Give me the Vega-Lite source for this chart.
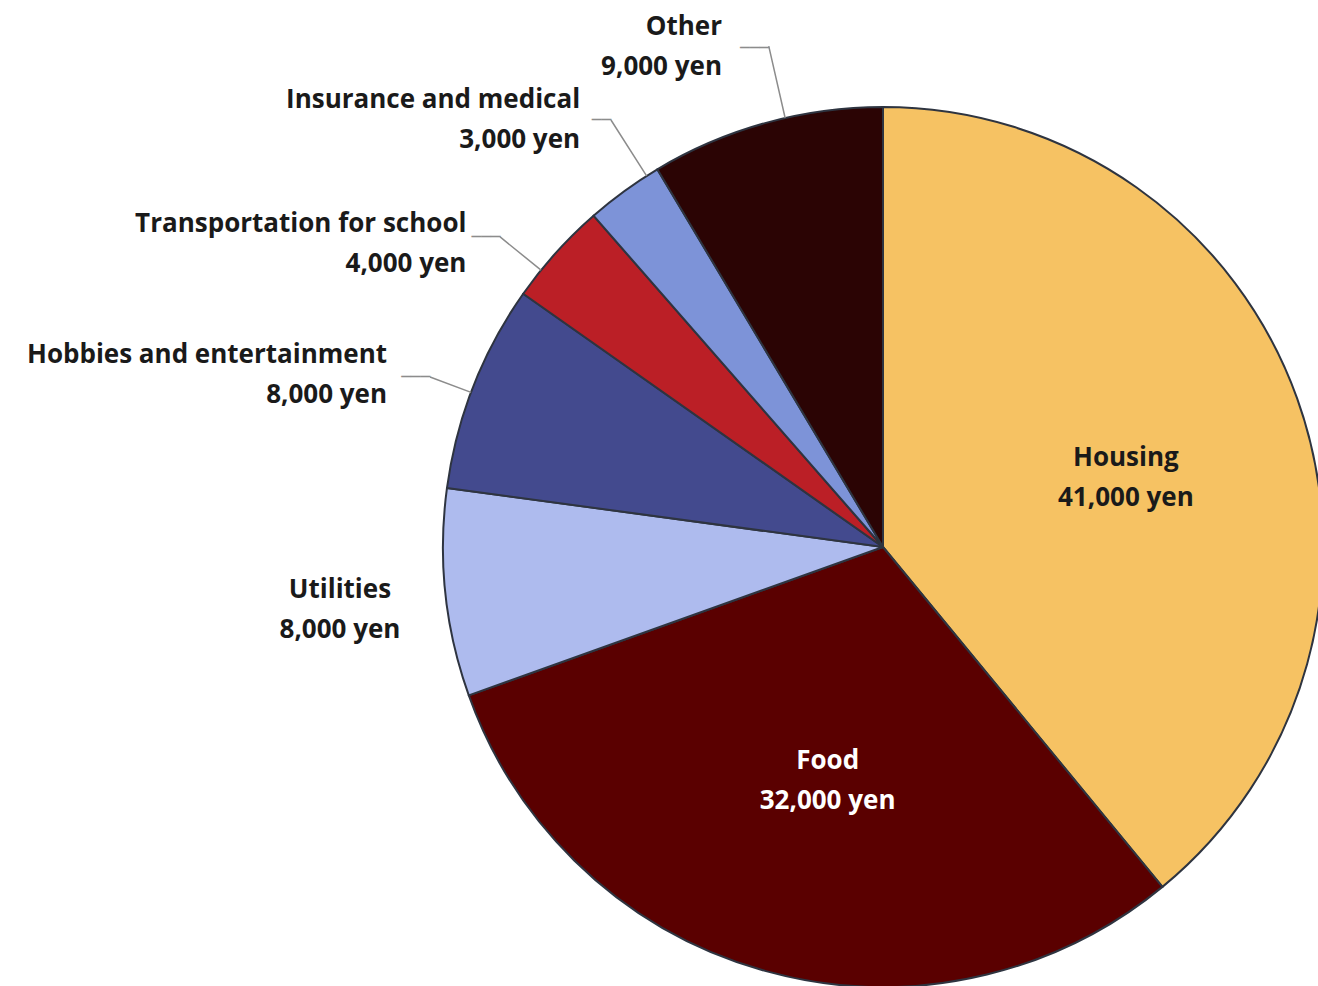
{
  "$schema": "https://vega.github.io/schema/vega-lite/v6.json",
  "width": 870,
  "height": 878,
  "padding": {"left": 448, "top": 108, "right": 0, "bottom": 0},
  "autosize": "none",
  "background": "white",
  "view": {"stroke": null},
  "data": {
    "values": [
      {"rank": 1, "category": "Housing", "amount": 41000, "label": "Housing\n41,000 yen"},
      {"rank": 2, "category": "Food", "amount": 32000, "label": "Food\n32,000 yen"},
      {"rank": 3, "category": "Utilities", "amount": 8000, "label": "Utilities\n8,000 yen"},
      {"rank": 4, "category": "Hobbies and entertainment", "amount": 8000, "label": "Hobbies and entertainment\n8,000 yen"},
      {"rank": 5, "category": "Transportation for school", "amount": 4000, "label": "Transportation for school\n4,000 yen"},
      {"rank": 6, "category": "Insurance and medical", "amount": 3000, "label": "Insurance and medical\n3,000 yen"},
      {"rank": 7, "category": "Other", "amount": 9000, "label": "Other\n9,000 yen"}
    ]
  },
  "encoding": {
    "theta": {"field": "amount", "type": "quantitative", "stack": true},
    "order": {"field": "rank", "type": "quantitative"},
    "detail": {"field": "category", "type": "nominal"}
  },
  "layer": [
    {
      "mark": {"type": "arc", "outerRadius": 440, "stroke": "#2e3440", "strokeWidth": 2, "strokeJoin": "round"},
      "encoding": {
        "color": {
          "field": "category", "type": "nominal", "legend": null,
          "scale": {
            "domain": ["Housing", "Food", "Utilities", "Hobbies and entertainment", "Transportation for school", "Insurance and medical", "Other"],
            "range": ["#F6C263", "#5A0000", "#AEBBEE", "#434A8E", "#BB1F26", "#7D93D8", "#2B0404"]
          }
        }
      }
    },
    {
      "mark": {"type": "arc", "innerRadius": 440, "outerRadius": 513.7, "padAngle": 3, "thetaOffset": 0.045, "theta2Offset": 0.045, "fill": "transparent", "stroke": "#8c8c8c", "strokeWidth": 1.5},
      "encoding": {"strokeOpacity": {"condition": {"test": "datum.category === 'Other'", "value": 1}, "value": 0}}
    },
    {
      "mark": {"type": "arc", "innerRadius": 440, "outerRadius": 506.3, "padAngle": 3, "thetaOffset": 0.0611, "theta2Offset": 0.0611, "fill": "transparent", "stroke": "#8c8c8c", "strokeWidth": 1.5},
      "encoding": {"strokeOpacity": {"condition": {"test": "datum.category === 'Insurance and medical'", "value": 1}, "value": 0}}
    },
    {
      "mark": {"type": "arc", "innerRadius": 440, "outerRadius": 492.7, "padAngle": 3, "thetaOffset": -0.0524, "theta2Offset": -0.0524, "fill": "transparent", "stroke": "#8c8c8c", "strokeWidth": 1.5},
      "encoding": {"strokeOpacity": {"condition": {"test": "datum.category === 'Transportation for school'", "value": 1}, "value": 0}}
    },
    {
      "mark": {"type": "arc", "innerRadius": 440, "outerRadius": 483.8, "padAngle": 3, "thetaOffset": -0.015, "theta2Offset": -0.015, "fill": "transparent", "stroke": "#8c8c8c", "strokeWidth": 1.5},
      "encoding": {"strokeOpacity": {"condition": {"test": "datum.category === 'Hobbies and entertainment'", "value": 1}, "value": 0}}
    },
    {
      "mark": {"type": "text", "radius": 500, "align": "right", "baseline": "alphabetic", "dx": 19, "dy": -12.5, "font": "DejaVu Sans Mono", "fontSize": 16, "fill": "#8c8c8c"},
      "encoding": {"text": {"condition": {"test": "datum.category === 'Other'", "value": "───"}, "value": ""}}
    },
    {
      "mark": {"type": "text", "radius": 500, "align": "right", "baseline": "alphabetic", "dx": 22, "dy": -17, "font": "DejaVu Sans Mono", "fontSize": 16, "fill": "#8c8c8c"},
      "encoding": {"text": {"condition": {"test": "datum.category === 'Insurance and medical'", "value": "──"}, "value": ""}}
    },
    {
      "mark": {"type": "text", "radius": 500, "align": "right", "baseline": "alphabetic", "dx": -11, "dy": 30, "font": "DejaVu Sans Mono", "fontSize": 16, "fill": "#8c8c8c"},
      "encoding": {"text": {"condition": {"test": "datum.category === 'Transportation for school'", "value": "───"}, "value": ""}}
    },
    {
      "mark": {"type": "text", "radius": 500, "align": "right", "baseline": "alphabetic", "dx": 12.5, "dy": 18, "font": "DejaVu Sans Mono", "fontSize": 16, "fill": "#8c8c8c"},
      "encoding": {"text": {"condition": {"test": "datum.category === 'Hobbies and entertainment'", "value": "───"}, "value": ""}}
    },
    {
      "mark": {"type": "text", "radius": 500, "align": "right", "baseline": "middle", "dx": -28, "dy": -38, "lineBreak": "\n", "lineHeight": 40, "font": "Open Sans", "fontWeight": "bold", "fontSize": 26, "fill": "#1a1a1a"},
      "encoding": {"text": {"condition": {"test": "datum.category === 'Other'", "field": "label", "type": "nominal"}, "value": ""}}
    },
    {
      "mark": {"type": "text", "radius": 500, "align": "right", "baseline": "middle", "dx": -9, "dy": -42.5, "lineBreak": "\n", "lineHeight": 40, "font": "Open Sans", "fontWeight": "bold", "fontSize": 26, "fill": "#1a1a1a"},
      "encoding": {"text": {"condition": {"test": "datum.category === 'Insurance and medical'", "field": "label", "type": "nominal"}, "value": ""}}
    },
    {
      "mark": {"type": "text", "radius": 500, "align": "right", "baseline": "middle", "dx": -45, "dy": 11.5, "lineBreak": "\n", "lineHeight": 40, "font": "Open Sans", "fontWeight": "bold", "fontSize": 26, "fill": "#1a1a1a"},
      "encoding": {"text": {"condition": {"test": "datum.category === 'Transportation for school'", "field": "label", "type": "nominal"}, "value": ""}}
    },
    {
      "mark": {"type": "text", "radius": 500, "align": "right", "baseline": "middle", "dx": -30.5, "dy": -9.5, "lineBreak": "\n", "lineHeight": 40, "font": "Open Sans", "fontWeight": "bold", "fontSize": 26, "fill": "#1a1a1a"},
      "encoding": {"text": {"condition": {"test": "datum.category === 'Hobbies and entertainment'", "field": "label", "type": "nominal"}, "value": ""}}
    },
    {
      "mark": {"type": "text", "radius": 540, "align": "center", "baseline": "middle", "dx": -6, "dy": -13, "lineBreak": "\n", "lineHeight": 40, "font": "Open Sans", "fontWeight": "bold", "fontSize": 26, "fill": "#1a1a1a"},
      "encoding": {"text": {"condition": {"test": "datum.category === 'Utilities'", "field": "label", "type": "nominal"}, "value": ""}}
    },
    {
      "mark": {"type": "text", "radius": 258, "align": "center", "baseline": "middle", "dx": 0, "dy": -2, "lineBreak": "\n", "lineHeight": 40, "font": "Open Sans", "fontWeight": "bold", "fontSize": 26, "fill": "#1a1a1a"},
      "encoding": {"text": {"condition": {"test": "datum.category === 'Housing'", "field": "label", "type": "nominal"}, "value": ""}}
    },
    {
      "mark": {"type": "text", "radius": 242, "align": "center", "baseline": "middle", "dx": 9, "dy": -19, "lineBreak": "\n", "lineHeight": 40, "font": "Open Sans", "fontWeight": "bold", "fontSize": 26, "fill": "#ffffff"},
      "encoding": {"text": {"condition": {"test": "datum.category === 'Food'", "field": "label", "type": "nominal"}, "value": ""}}
    }
  ]
}
